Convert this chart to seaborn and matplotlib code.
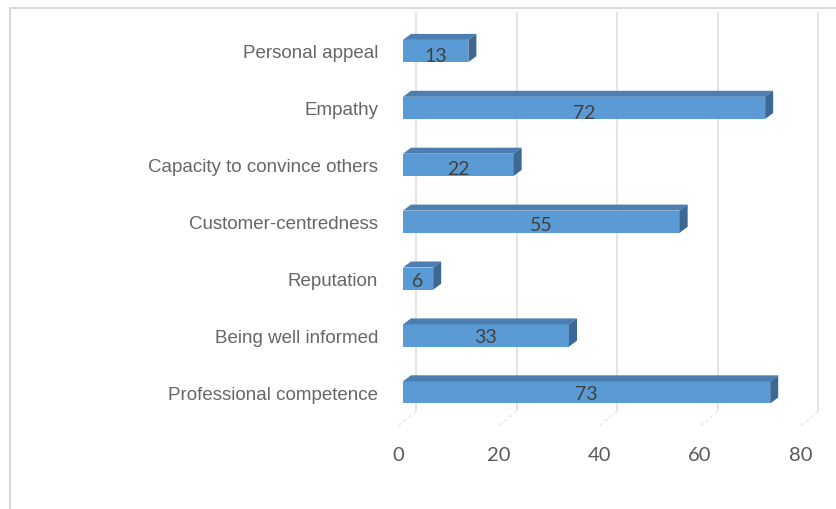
import numpy as np
import pandas as pd
import matplotlib
matplotlib.use("Agg")
import matplotlib.pyplot as plt
from matplotlib.patches import Polygon
from matplotlib.lines import Line2D
from matplotlib.transforms import ScaledTranslation
import seaborn as sns

# ---- data -------------------------------------------------------------
categories = [
    "Personal appeal",
    "Empathy",
    "Capacity to convince others",
    "Customer-centredness",
    "Reputation",
    "Being well informed",
    "Professional competence",
]
values = [13, 72, 22, 55, 6, 33, 73]
x_ticks = [0, 20, 40, 60, 80]

df = pd.DataFrame({"attribute": categories, "share": values})

# ---- style ------------------------------------------------------------
sns.set_theme(style="white")
plt.rcParams["font.family"] = ["Liberation Sans", "DejaVu Sans"]

FRONT = "#5b9bd5"
TOP = "#4c7eb2"
SIDE = "#3c6893"
GRID = "#dcdcdc"
TEXT = "#595959"
CAT_TEXT = "#666666"

W, H = 837, 510
fig = plt.figure(figsize=(W / 100, H / 100), dpi=100)

# axes box in pixels
ax_l, ax_r, ax_t, ax_b = 395, 830, 10, 430
ax = fig.add_axes([ax_l / W, 1 - ax_b / H, (ax_r - ax_l) / W, (ax_b - ax_t) / H])

sns.barplot(data=df, x="share", y="attribute", order=categories, orient="h",
            color=FRONT, saturation=1, width=0.39, linewidth=0, ax=ax, zorder=3)

# scale: 0 on the front face sits at x=403 px, 5.03 px per unit; rows 56.9 px apart
x0_px, px_per_unit = 403, 5.03
row0_px, row_px = 52, 56.9
ax.set_xlim((ax_l - x0_px) / px_per_unit, (ax_r - x0_px) / px_per_unit)
ax.set_ylim((ax_b - row0_px) / row_px, -(row0_px - ax_t) / row_px)

# 3-D extrusion of each bar: top face and right-hand face
dx = 8 / px_per_unit
dy = 6 / row_px
for p in ax.patches[:len(values)]:
    x0, w = p.get_x(), p.get_width()
    y_a, y_b = p.get_y(), p.get_y() + p.get_height()
    y_top, y_bot = min(y_a, y_b), max(y_a, y_b)
    top = Polygon([(x0, y_top), (x0 + w, y_top), (x0 + w + dx, y_top - dy),
                   (x0 + dx, y_top - dy)], closed=True, facecolor=TOP,
                  edgecolor="none", zorder=3)
    side = Polygon([(x0 + w, y_top), (x0 + w + dx, y_top - dy),
                    (x0 + w + dx, y_bot - dy), (x0 + w, y_bot)], closed=True,
                   facecolor=SIDE, edgecolor="none", zorder=3)
    ax.add_patch(top)
    ax.add_patch(side)

# back-wall gridlines with the floor lines running toward the front
back = 13 / px_per_unit
wall_top = (13 - row0_px) / row_px
wall_bot = (412 - row0_px) / row_px
floor_front = (428 - row0_px) / row_px
for v in x_ticks:
    ax.plot([v + back, v + back], [wall_top, wall_bot], color=GRID, lw=1.1,
            zorder=1, solid_capstyle="butt")
    ax.plot([v + back, v - 1.15], [wall_bot, floor_front], color="#e6e6e6",
            lw=0.9, ls=(0, (3, 2)), zorder=1)

# value labels inside the bars
for i, v in enumerate(values):
    off = (5.0 - 0.7 * i) / row_px
    ax.text(v / 2, i + off, f"{v}", ha="center", va="center",
            fontsize=14, color="#404040", family=["Lato", "DejaVu Sans"], zorder=5)

# axes furniture
for s in ax.spines.values():
    s.set_visible(False)
ax.set_xlabel("")
ax.set_ylabel("")
ax.set_xticks(x_ticks)
ax.set_xticklabels([str(t) for t in x_ticks], fontsize=14.5, color=TEXT,
                   family=["Lato", "DejaVu Sans"])
ax.tick_params(axis="x", length=0, pad=18.5)
for lab in ax.get_xticklabels():
    lab.set_va("center")
    lab.set_transform(lab.get_transform() + ScaledTranslation(-5 / 100, 0, fig.dpi_scale_trans))
ax.tick_params(axis="y", length=0, pad=12.2, labelsize=13.5, labelcolor=CAT_TEXT)
ax.set_facecolor("none")

# outer chart frame (top and left edges)
fig.add_artist(Line2D([9.5 / W, 9.5 / W], [0, 1 - 8.5 / H], transform=fig.transFigure,
                      color="#d9d9d9", lw=1.5))
fig.add_artist(Line2D([9.5 / W, 1], [1 - 8.5 / H, 1 - 8.5 / H], transform=fig.transFigure,
                      color="#d9d9d9", lw=1.5))

fig.savefig("out.png", dpi=100, facecolor="white")
